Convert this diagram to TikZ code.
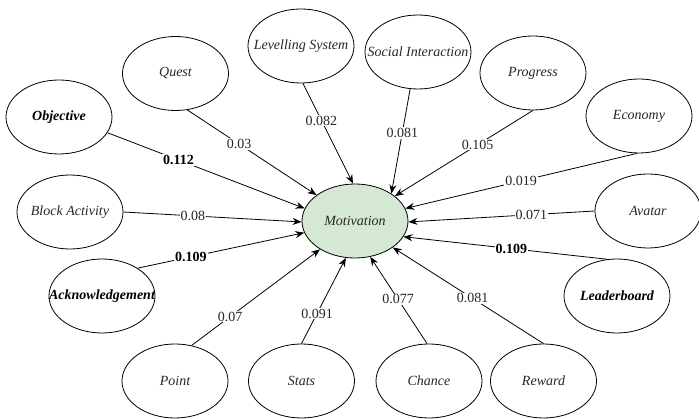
\documentclass[tikz,border=0pt]{standalone}
\usepackage{fontspec}
\setmainfont{Liberation Serif}
\newfontfamily\tnr{Liberation Serif}
\usetikzlibrary{shapes.geometric,arrows.meta}
\definecolor{motfill}{HTML}{D5E8D4}
\definecolor{inktext}{HTML}{262626}
% zero-width box so long names spill over the ellipse instead of widening it
\newcommand\inellipse[1]{\makebox[0pt][c]{#1}}
\begin{document}
\begin{tikzpicture}[x=1pt,y=-1pt,
  construct/.style={ellipse,draw,line width=0.8pt,minimum width=106pt,minimum height=74pt,
    inner sep=0pt,font=\tnr\fontsize{14}{16}\selectfont\itshape,text=inktext},
  keyconstruct/.style={construct,font=\tnr\fontsize{14}{16}\selectfont\bfseries\itshape,text=black},
  target/.style={construct,fill=motfill},
  link/.style={line width=0.8pt,-{Stealth[length=9pt,width=7pt]}},
  coef/.style={fill=white,inner sep=1pt,font=\tnr\fontsize{14}{16}\selectfont,text=inktext},
  keycoef/.style={coef,font=\tnr\fontsize{14}{16}\selectfont\bfseries,text=black}]
\useasboundingbox (0,0) rectangle (699,419);

% central construct
\node[target] (mot) at (355,221) {\inellipse{Motivation}};

% surrounding constructs
\node[keyconstruct] (obj)    at (59,117)    {\inellipse{Objective}};
\node[construct]    (quest)  at (175.5,73.5) {\inellipse{Quest}};
\node[construct]    (level)  at (301,46)    {\inellipse{Levelling System}};
\node[construct]    (social) at (418,52)    {\inellipse{Social Interaction}};
\node[construct]    (prog)   at (533,73)    {\inellipse{Progress}};
\node[construct]    (econ)   at (639,116)   {\inellipse{Economy}};
\node[construct]    (avatar) at (648,211)   {\inellipse{Avatar}};
\node[keyconstruct] (leader) at (617,296)   {\inellipse{Leaderboard}};
\node[construct]    (reward) at (543.5,381) {\inellipse{Reward}};
\node[construct]    (chance) at (429,381)   {\inellipse{Chance}};
\node[construct]    (stats)  at (301.5,381) {\inellipse{Stats}};
\node[construct]    (point)  at (175,381)   {\inellipse{Point}};
\node[keyconstruct] (ack)    at (102,296)   {\inellipse{Acknowledgement}};
\node[construct]    (block)  at (70,212)    {\inellipse{Block Activity}};

% path coefficients
\draw[link] (obj.-18)    -- node[keycoef,pos=0.36]{0.112} (mot.166);
\draw[link] (quest.-72)  -- node[coef,pos=0.40]{0.03}     (mot.146);
\draw[link] (level.-87)  -- node[coef,pos=0.37]{0.082}    (mot.93);
\draw[link] (social.-102)-- node[coef,pos=0.42]{0.081}    (mot.37);
\draw[link] (prog.-90)   -- node[coef,pos=0.40]{0.105}    (mot.32);
\draw[link] (econ.-93)   -- node[coef,pos=0.50]{0.019}    (mot.14);
\draw[link] (avatar.180) -- node[coef,pos=0.34]{0.071}    (mot.-1);
\draw[link] (leader.105) -- node[keycoef,pos=0.47]{0.109} (mot.-18);
\draw[link] (reward.90)  -- node[coef,pos=0.47]{0.081}    (mot.-35);
\draw[link] (chance.93)  -- node[coef,pos=0.51]{0.077}    (mot.-67);
\draw[link] (stats.90)   -- node[coef,pos=0.35]{0.091}    (mot.-104);
\draw[link] (point.65)   -- node[coef,pos=0.30]{0.07}     (mot.-141);
\draw[link] (ack.38)     -- node[keycoef,pos=0.32]{0.109} (mot.-167);
\draw[link] (block.0)    -- node[coef,pos=0.39]{0.08}     (mot.-179);
\end{tikzpicture}
\end{document}
